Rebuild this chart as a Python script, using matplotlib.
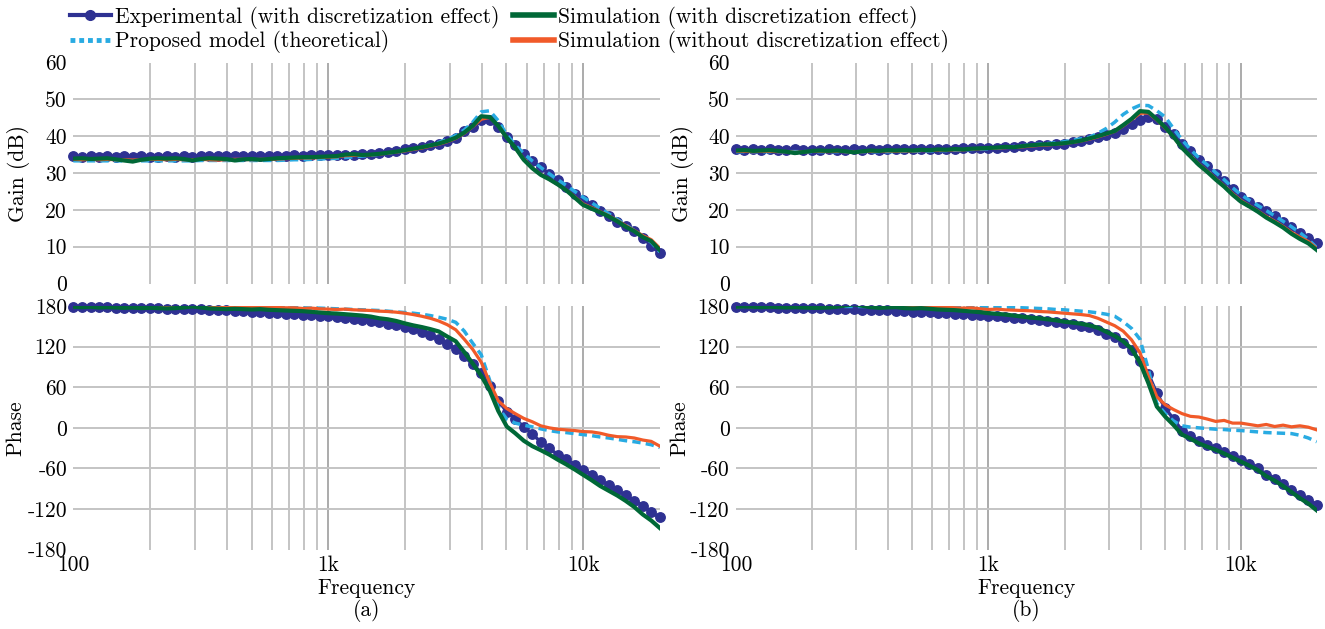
import matplotlib
matplotlib.use("Agg")
import matplotlib.pyplot as plt
from matplotlib.lines import Line2D

plt.rcParams['font.family'] = ['cmr10', 'DejaVu Serif']
plt.rcParams['mathtext.fontset'] = 'cm'
plt.rcParams['axes.unicode_minus'] = False
plt.rcParams['axes.formatter.use_mathtext'] = True

# ---------------- data ----------------
freq = [100, 108, 117, 126, 136, 147, 158, 171, 185, 200,
        215, 233, 251, 271, 293, 316, 341, 369, 398, 430,
        464, 501, 541, 584, 631, 681, 736, 794, 858, 926,
        1000, 1080, 1166, 1259, 1359, 1468, 1585, 1711, 1848, 1995,
        2154, 2326, 2512, 2712, 2929, 3162, 3415, 3687, 3981, 4299,
        4642, 5012, 5412, 5843, 6310, 6813, 7356, 7943, 8577, 9261,
        10000, 10798, 11659, 12589, 13594, 14678, 15849, 17113, 18478, 19953]

# ---- panel (a) gain ----
exp_gain_a = [34.5, 34.4, 34.5, 34.4, 34.5, 34.4, 34.5, 34.4, 34.5, 34.3,
              34.4, 34.5, 34.4, 34.5, 34.4, 34.5, 34.6, 34.5, 34.6, 34.5,
              34.6, 34.6, 34.7, 34.6, 34.7, 34.7, 34.8, 34.7, 34.8, 34.8,
              34.8, 34.9, 35.0, 35.0, 35.1, 35.2, 35.3, 35.6, 35.9, 36.4,
              36.8, 37.1, 37.5, 38.0, 38.6, 39.6, 41.3, 42.6, 44.3, 44.4,
              42.4, 39.8, 37.6, 35.1, 33.2, 31.5, 29.8, 28.2, 26.3, 24.3,
              22.7, 21.2, 19.7, 18.2, 16.7, 15.5, 14.2, 12.4, 10.3, 8.2]
mod_gain_a = [33.3, 33.3, 33.3, 33.3, 33.3, 33.3, 33.3, 33.3, 33.3, 33.3,
              33.3, 33.3, 33.3, 33.3, 33.3, 33.4, 33.4, 33.4, 33.4, 33.4,
              33.4, 33.4, 33.4, 33.4, 33.4, 33.5, 33.6, 33.6, 33.7, 33.8,
              33.9, 34.0, 34.2, 34.4, 34.6, 34.8, 35.1, 35.4, 35.7, 36.1,
              36.5, 37.0, 37.6, 38.3, 39.1, 40.2, 41.7, 43.8, 46.6, 46.9,
              44.2, 40.4, 37.6, 35.3, 33.3, 31.5, 29.8, 28.2, 26.6, 25.0,
              23.4, 21.9, 20.4, 18.9, 17.4, 15.9, 14.4, 12.9, 11.2, 8.6]
sim_gain_a = [33.9, 34.0, 33.8, 33.9, 34.0, 33.7, 33.4, 33.1, 33.6, 33.9,
              34.0, 33.9, 34.0, 33.8, 33.4, 33.8, 34.0, 33.9, 33.8, 33.4,
              33.7, 33.8, 33.6, 33.8, 34.0, 34.1, 34.2, 34.3, 34.3, 34.4,
              34.5, 34.6, 35.0, 35.1, 34.9, 35.0, 35.2, 35.5, 35.8, 36.2,
              36.6, 37.0, 37.5, 38.0, 38.7, 39.6, 41.0, 42.8, 45.4, 45.2,
              42.8, 39.6, 36.9, 33.6, 31.3, 29.5, 28.3, 26.9, 25.3, 23.3,
              21.3, 20.3, 19.3, 18.2, 16.9, 15.4, 14.2, 12.6, 11.5, 9.1]
nod_gain_a = [33.7, 33.6, 33.7, 33.6, 33.7, 33.6, 33.6, 33.5, 33.6, 33.7,
              33.7, 33.6, 33.7, 33.6, 33.6, 33.7, 33.6, 33.5, 33.6, 33.7,
              33.7, 33.6, 33.7, 33.7, 33.8, 33.9, 34.0, 34.1, 34.1, 34.2,
              34.3, 34.4, 34.7, 34.8, 34.8, 34.9, 35.1, 35.4, 35.7, 36.0,
              36.4, 36.8, 37.3, 37.8, 38.5, 39.4, 40.8, 42.6, 44.6, 45.1,
              42.8, 39.6, 36.8, 33.8, 31.4, 29.6, 28.3, 26.9, 25.4, 23.5,
              21.6, 20.6, 19.5, 18.4, 17.1, 15.7, 14.4, 13.0, 11.9, 9.6]

# ---- panel (a) phase ----
exp_phase_a = [179, 178.5, 178, 178, 178, 177.5, 177.5, 177, 177, 176.5,
               176.5, 176, 176, 175.5, 175, 175, 174.5, 174, 173.5, 173,
               172.5, 172, 171, 170.5, 170, 169, 168.5, 167.5, 167, 166,
               165.5, 164, 163, 161.5, 160, 158.5, 156, 154, 152, 149.5,
               146, 141.5, 137, 131.5, 124.5, 116, 105.5, 94, 81.5, 61.5,
               40, 24, 13, 1.5, -9, -21, -30.5, -39.5, -46.5, -54.5,
               -62, -69, -77, -85, -92, -100, -107.5, -115, -124.5, -132.5]
mod_phase_a = [179.5, 179.5, 179.5, 179.5, 179.5, 179.5, 179.5, 179.5, 179.5, 179.5,
               179.5, 179.5, 179, 179, 179, 179, 179, 179, 178.5, 178.5,
               178.5, 178.5, 178, 178, 178, 177.5, 177.5, 177.5, 177, 177,
               176.5, 176, 175.5, 175, 174.5, 174, 173.5, 172.5, 171.5, 170.5,
               169.5, 168, 166, 163.5, 160.5, 156, 143, 125, 108, 70,
               30, 13, 7, 4, 1.5, -1.5, -4, -6, -7, -8.5,
               -10, -11.5, -13.5, -15, -17, -19, -20.5, -22.5, -25, -29]
sim_phase_a = [179, 178.5, 179, 178, 178.5, 178, 177.5, 178, 177, 177.5,
               177, 176.5, 177, 178, 179.5, 178, 176.5, 176, 175.5, 176,
               175.5, 175, 175.5, 174.5, 174, 173.5, 173, 172.5, 171.5, 170.5,
               169.5, 169, 168, 167, 166, 164.5, 162, 160.5, 158, 154.5,
               151.5, 149, 146, 142.5, 135, 128, 112, 95, 77, 55,
               25, 2, -8, -19, -27, -33, -39.5, -47, -54, -61.5,
               -69.5, -77.5, -86, -93, -100, -108, -117, -128, -137, -148]
nod_phase_a = [179, 179, 179.5, 179, 179.5, 179, 179, 178.5, 179, 179,
               178.5, 178.5, 179.5, 180.5, 181, 179.5, 179, 178.5, 179, 180,
               179, 179, 178.5, 178.5, 178, 177.5, 177.5, 176.5, 177, 176,
               175.5, 175, 175.5, 174.5, 174, 173.5, 172.5, 172, 171, 169.5,
               167.5, 165, 162, 158, 152.5, 145, 131, 116, 97, 67,
               40, 28.5, 21, 14, 9, 3, 0, -2, -3, -4,
               -5.5, -6, -8, -11, -13, -13.5, -15, -18, -20, -27]

# ---- panel (b) gain ----
exp_gain_b = [36.4, 36.3, 36.4, 36.3, 36.4, 36.3, 36.3, 36.4, 36.3, 36.3,
              36.3, 36.4, 36.3, 36.3, 36.4, 36.3, 36.4, 36.3, 36.4, 36.4,
              36.4, 36.5, 36.4, 36.5, 36.5, 36.6, 36.6, 36.7, 36.7, 36.8,
              36.8, 36.9, 37.0, 37.1, 37.2, 37.3, 37.5, 37.6, 37.8, 38.0,
              38.3, 38.7, 39.2, 39.7, 40.2, 40.8, 42.0, 43.2, 44.4, 45.3,
              44.6, 42.6, 40.5, 38.0, 36.0, 33.6, 31.8, 29.6, 27.8, 25.6,
              23.6, 22.2, 20.8, 19.6, 18.2, 16.8, 15.3, 13.8, 12.4, 10.9]
mod_gain_b = [35.8, 35.8, 35.8, 35.8, 35.8, 35.8, 35.8, 35.8, 35.8, 35.8,
              35.8, 35.8, 35.8, 35.8, 35.8, 35.8, 35.8, 35.8, 35.8, 35.8,
              35.9, 35.9, 36.0, 36.0, 36.1, 36.1, 36.2, 36.3, 36.4, 36.5,
              36.6, 36.8, 37.0, 37.2, 37.4, 37.6, 37.8, 38.0, 38.2, 38.5,
              38.9, 39.3, 39.7, 40.8, 42.1, 43.8, 45.9, 47.4, 48.4, 48.3,
              46.9, 45.2, 42.0, 39.0, 36.4, 34.1, 32.2, 30.1, 28.2, 26.0,
              24.1, 22.6, 21.2, 19.8, 18.4, 16.9, 15.4, 13.8, 12.0, 9.7]
sim_gain_b = [36.1, 36.2, 36.0, 36.1, 36.2, 36.0, 35.8, 35.4, 35.7, 36.0,
              36.1, 36.0, 36.1, 35.9, 35.6, 35.9, 36.1, 36.0, 36.2, 36.1,
              36.2, 36.1, 36.3, 36.2, 36.4, 36.3, 36.5, 36.4, 36.6, 36.7,
              36.8, 36.9, 37.1, 37.0, 37.3, 37.5, 37.7, 37.8, 37.9, 38.1,
              38.4, 38.8, 39.4, 40.0, 40.7, 41.4, 43.0, 44.7, 46.8, 46.6,
              44.6, 42.4, 39.8, 36.8, 34.5, 32.2, 30.3, 28.2, 26.3, 24.1,
              22.2, 20.9, 19.5, 17.9, 16.6, 15.2, 13.5, 12.1, 10.9, 9.1]
nod_gain_b = [35.9, 35.9, 35.8, 35.9, 35.9, 35.8, 35.8, 35.6, 35.7, 35.9,
              35.9, 35.8, 35.9, 35.8, 35.7, 35.8, 35.9, 35.9, 36.0, 35.9,
              36.0, 36.0, 36.1, 36.1, 36.2, 36.2, 36.3, 36.3, 36.5, 36.6,
              36.7, 36.8, 36.9, 37.0, 37.1, 37.3, 37.5, 37.6, 37.8, 38.0,
              38.3, 38.7, 39.2, 39.8, 40.5, 41.3, 42.8, 44.5, 46.2, 46.3,
              44.4, 42.2, 39.7, 36.8, 34.6, 32.4, 30.5, 28.4, 26.5, 24.4,
              22.5, 21.1, 19.7, 18.2, 16.9, 15.5, 13.9, 12.6, 11.4, 9.5]

# ---- panel (b) phase ----
exp_phase_b = [179, 178.5, 178.5, 178, 178, 177.5, 177.5, 177, 177, 176.5,
               176.5, 176, 176, 175.5, 175, 174.5, 174.5, 174, 173.5, 173,
               172.5, 172, 171.5, 171, 170.5, 170, 169, 168.5, 167.5, 167,
               166, 165, 164, 163, 162, 161, 159.5, 158, 156.5, 154.5,
               153, 151, 149, 145, 139, 134, 126, 115, 99, 80,
               51, 29, 13, -4, -12, -20, -26, -30, -36, -41.5,
               -47.5, -53, -59.5, -69, -75, -83, -92.5, -99, -106, -114.5]
mod_phase_b = [179.5, 179.5, 179.5, 179.5, 179.5, 179.5, 179.5, 179.5, 179.5, 179.5,
               179.5, 179.5, 179.5, 179.5, 179.5, 179.5, 179.5, 179.5, 179.5, 179.5,
               179.5, 179.5, 179.5, 179, 179, 179, 179, 179, 179, 179,
               178.5, 178.5, 178, 178, 177.5, 177, 176.5, 176, 175, 174.5,
               173.5, 172.5, 171.5, 170, 168, 165, 157, 147, 131, 86,
               36, 21, 10, 3, 1, 0, -1, -2, -2.5, -3.5,
               -4, -5, -6, -7, -7.5, -8, -8.5, -11, -15, -20.5]
sim_phase_b = [179, 179.5, 179, 178.5, 179, 178.5, 178, 178.5, 178, 177.5,
               177.5, 178, 179, 181, 182.5, 180.5, 178.5, 177.5, 178, 178.5,
               177, 176.5, 177, 176, 175, 174.5, 174, 173, 172, 171,
               169.5, 168.5, 167.5, 166, 164.5, 163, 162, 160.5, 159, 157,
               155.5, 154, 151.5, 148, 142, 136, 128, 117, 96.5, 66,
               31.5, 16.5, 4, -10, -16, -23, -28, -32.5, -38, -44,
               -50, -56, -62.5, -71.5, -78, -86, -95, -104, -112, -122]
nod_phase_b = [179, 179.5, 179, 179.5, 179, 179.5, 179, 179, 179.5, 179,
               179, 179.5, 180, 181.5, 183, 182, 181, 180, 180.5, 180,
               179.5, 179, 179.5, 178.5, 178, 178.5, 177.5, 177, 177.5, 176,
               175, 175.5, 174.5, 174, 173.5, 173, 172, 171.5, 170.5, 169.5,
               168.5, 167.5, 166, 162, 156.5, 151, 143, 130, 111, 76,
               46, 34, 27, 21, 17, 16, 13, 9.5, 11, 7,
               7, 5, 3, 5, 2, 4, 1.5, 3, 1, -3]

gain_ticks = [0, 10, 20, 30, 40, 50, 60]
phase_ticks = [-180, -120, -60, 0, 60, 120, 180]
freq_ticks = [100, 1000, 10000]
freq_labels = ['100', '1k', '10k']
series_labels = ['Experimental (with discretization effect)',
                 'Proposed model (theoretical)',
                 'Simulation (with discretization effect)',
                 'Simulation (without discretization effect)']

# ---------------- style ----------------
C_EXP = '#2e3192'
C_MOD = '#29abe2'
C_SIM = '#006837'
C_NOD = '#f15a29'
GRID = '#c4c4c4'
GRID_DARK = '#ababab'
FS = 15.5

fig = plt.figure(figsize=(13.25, 6.29), dpi=100)
W, H = 1325, 629


def px_axes(x0, x1, ytop, ybot):
    return fig.add_axes([x0 / W, 1 - ybot / H, (x1 - x0) / W, (ybot - ytop) / H])


minor_lines = [200, 300, 400, 500, 600, 700, 800, 900,
               2000, 3000, 4000, 5000, 6000, 7000, 8000, 9000]
major_lines = [1000, 10000]


def style(ax, yt, ylim, ylabel, show_x, labx):
    ax.set_xscale('log')
    ax.set_xlim(100, 20000)
    ax.set_ylim(*ylim)
    for s in ax.spines.values():
        s.set_visible(False)
    for v in minor_lines:
        ax.axvline(v, color=GRID, lw=1.4, zorder=0)
    for v in major_lines:
        ax.axvline(v, color=GRID_DARK, lw=1.4, zorder=0)
    for h in yt[1:-1]:
        ax.axhline(h, color=GRID, lw=1.4, zorder=0)
    ax.set_yticks(yt)
    ax.set_yticklabels([str(t) for t in yt])
    ax.tick_params(axis='both', which='both', length=0, labelsize=FS)
    ax.tick_params(axis='y', pad=4.5)
    ax.set_xticks(freq_ticks)
    ax.minorticks_off()
    if show_x:
        ax.set_xticklabels(freq_labels)
        ax.tick_params(axis='x', pad=4)
    else:
        ax.set_xticklabels([])
    ax.set_ylabel(ylabel, fontsize=FS)
    ax.yaxis.set_label_coords(labx, 0.5)


def draw(ax, e, m, s, n):
    ax.plot(freq, e, color=C_EXP, lw=2.4, marker='o', ms=6.8, zorder=2, clip_on=False)
    ax.plot(freq, m, color=C_MOD, lw=2.5, dashes=(2.4, 1.5), zorder=3)
    ax.plot(freq, n, color=C_NOD, lw=2.3, zorder=4)
    ax.plot(freq, s, color=C_SIM, lw=3.0, zorder=5)


# left panels
ga = px_axes(73.3, 660, 62.5, 283.5)
pa = px_axes(73.3, 660, 306.1, 549.6)
# right panels
gb = px_axes(736, 1317, 62.5, 283.5)
pb = px_axes(736, 1317, 306.1, 549.6)

style(ga, gain_ticks, (0, 60), 'Gain (dB)', False, -0.074)
style(pa, phase_ticks, (-180, 180), 'Phase', True, -0.082)
style(gb, gain_ticks, (0, 60), 'Gain (dB)', False, -0.072)
style(pb, phase_ticks, (-180, 180), 'Phase', True, -0.081)

draw(ga, exp_gain_a, mod_gain_a, sim_gain_a, nod_gain_a)
draw(pa, exp_phase_a, mod_phase_a, sim_phase_a, nod_phase_a)
draw(gb, exp_gain_b, mod_gain_b, sim_gain_b, nod_gain_b)
draw(pb, exp_phase_b, mod_phase_b, sim_phase_b, nod_phase_b)

for cx, tag in [((73.3 + 660) / 2, '(a)'), ((736 + 1317) / 2, '(b)')]:
    fig.text(cx / W, 1 - 588 / H, 'Frequency', ha='center', va='center', fontsize=FS)
    fig.text(cx / W, 1 - 610 / H, tag, ha='center', va='center', fontsize=FS)

handles = [
    Line2D([], [], color=C_EXP, lw=3, marker='o', ms=7),
    Line2D([], [], color=C_MOD, lw=3.5, dashes=(1.0, 0.8)),
    Line2D([], [], color=C_SIM, lw=4),
    Line2D([], [], color=C_NOD, lw=4),
]
fig.legend(handles, series_labels, loc='upper left', bbox_to_anchor=(70 / W, 1 - 6 / H),
           ncol=2, frameon=False, fontsize=FS, handlelength=1.9, handletextpad=0.2,
           columnspacing=0.6, labelspacing=0.05, borderpad=0, borderaxespad=0,
           numpoints=1)

fig.savefig('out.png', dpi=100)
